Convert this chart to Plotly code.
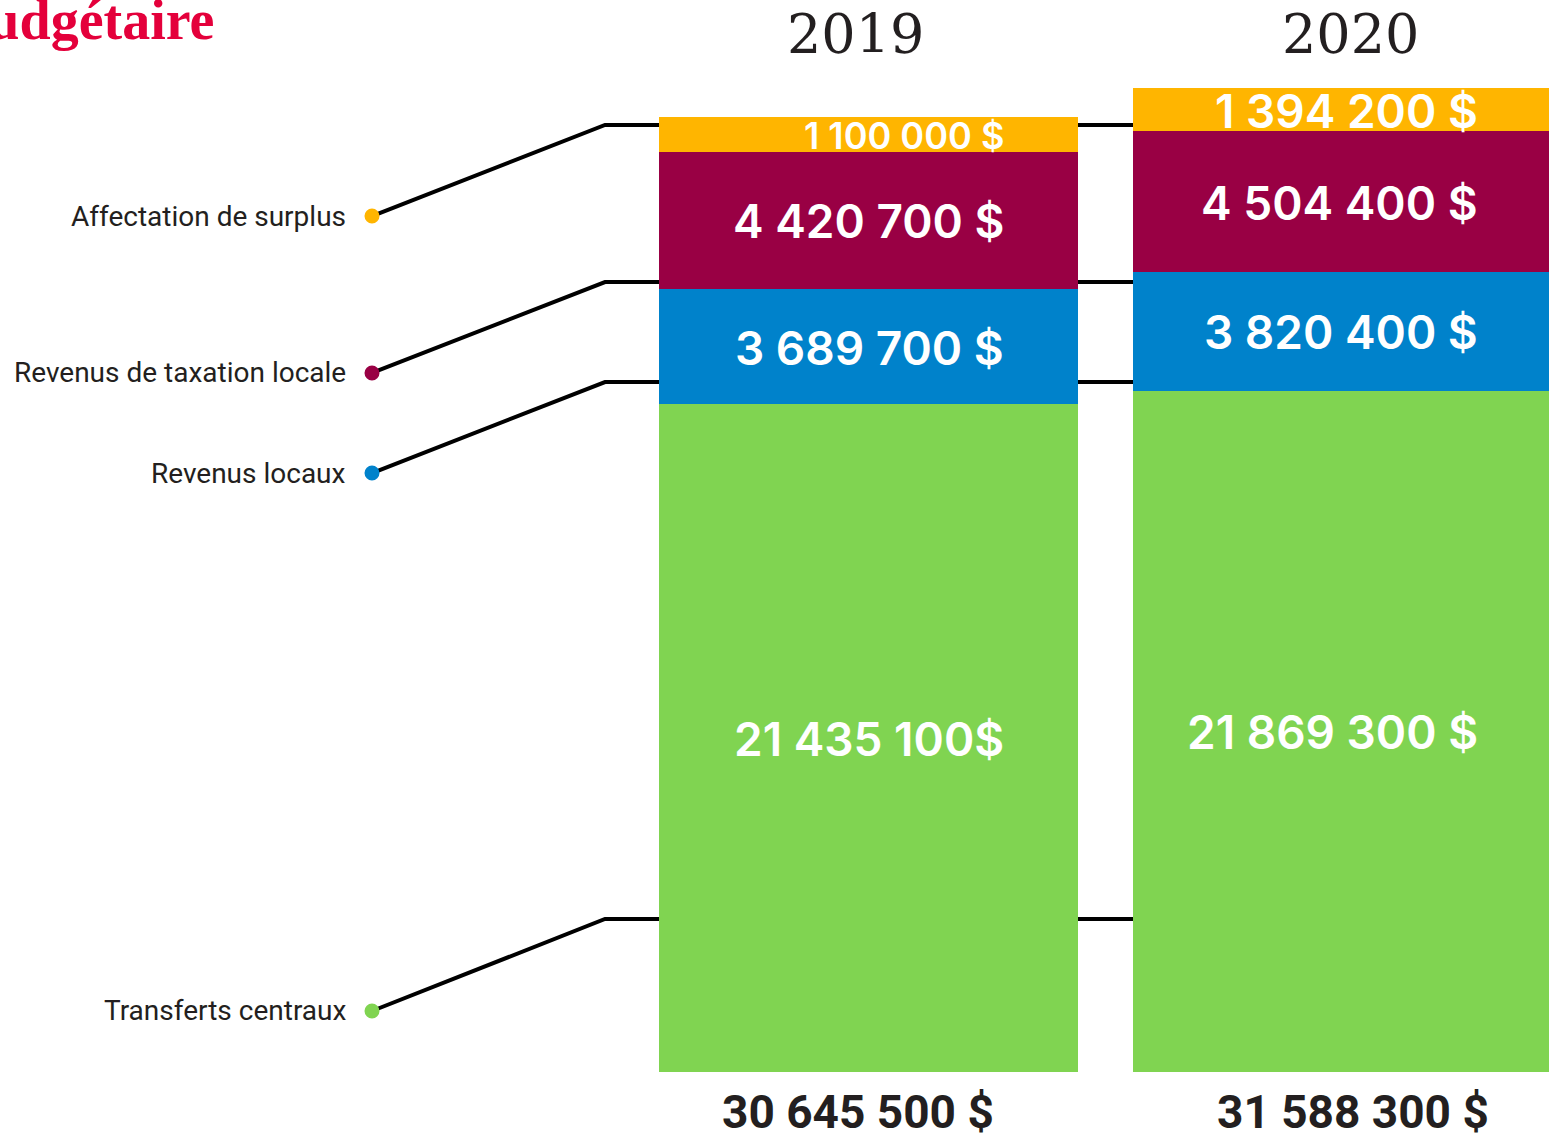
import plotly.graph_objects as go

# ---------------- data ----------------
years = ["2019", "2020"]
categories = ["Transferts centraux", "Revenus locaux",
              "Revenus de taxation locale", "Affectation de surplus"]
transferts_centraux = [21435100, 21869300]
revenus_locaux = [3689700, 3820400]
revenus_taxation = [4420700, 4504400]
affectation_surplus = [1100000, 1394200]

labels_transferts = ["21 435 100$", "21 869 300 $"]
labels_locaux = ["3 689 700 $", "3 820 400 $"]
labels_taxation = ["4 420 700 $", "4 504 400 $"]
labels_surplus = ["1 100 000 $", "1 394 200 $"]
total_labels = ["30 645 500 $", "31 588 300 $"]
title_text = "Budgétaire"

# ---------------- style ----------------
series = [
    (categories[0], transferts_centraux, labels_transferts, "#80D451"),
    (categories[1], revenus_locaux, labels_locaux, "#0082CB"),
    (categories[2], revenus_taxation, labels_taxation, "#990044"),
    (categories[3], affectation_surplus, labels_surplus, "#FFB500"),
]
W, H = 1549, 1141
M_T, M_B = 88, 69
PLOT_H = H - M_T - M_B
year_dx = [-0.028, 0.016]
total_dx = [-0.022, 0.022]

fig = go.Figure()
for name, vals, _, col in series:
    fig.add_trace(go.Bar(x=years, y=vals, name=name, marker_color=col,
                         marker_line_width=0, width=0.885, hoverinfo="skip"))

grand = [sum(s[1][i] for s in series) for i in range(len(years))]
ymax = max(grand)

annotations = []
# value labels inside segments (right aligned)
base = [0] * len(years)
for name, vals, labs, col in series:
    for i, (v, lab) in enumerate(zip(vals, labs)):
        seg_px = v / ymax * PLOT_H
        fsize = min(46, (seg_px - 8) / 0.727)
        annotations.append(dict(x=i + 0.29, y=base[i] + v / 2, xref="x", yref="y",
                                text=lab, showarrow=False, xanchor="right", yanchor="middle",
                                yshift=-1,
                                font=dict(family="Inter, Roboto, sans-serif", size=fsize,
                                          color="white", weight=600)))
        base[i] += v

# year headers and totals
for i, yr in enumerate(years):
    annotations.append(dict(x=i + year_dx[i], y=1, xref="x", yref="paper", yanchor="middle",
                            yshift=54, text=yr, showarrow=False,
                            font=dict(family="DejaVu Serif, serif", size=54, color="#231F20")))
    annotations.append(dict(x=i + total_dx[i], y=0, xref="x", yref="paper", yanchor="middle",
                            yshift=-40, text=total_labels[i], showarrow=False,
                            font=dict(family="Roboto, sans-serif", size=46, color="#231F20",
                                      weight=700)))

# title (partially cut off at left, as in the source)
annotations.append(dict(x=216 / W, y=1, xref="paper", yref="paper", xanchor="right",
                        yanchor="middle", yshift=68, text=f"<b>{title_text}</b>",
                        showarrow=False,
                        font=dict(family="Liberation Serif, serif", size=56, color="#E4003B")))

# leader lines + legend dots (paper coordinates of the plotting area)
leader_line_y = {categories[3]: 0.9624, categories[2]: 0.8028,
                 categories[1]: 0.7012, categories[0]: 0.1555}
leader_label_y = {categories[3]: 0.8699, categories[2]: 0.7104,
                  categories[1]: 0.6087, categories[0]: 0.0620}
dot_x = 372 / W
bend_x = 605 / W
text_x = 348 / W
shapes = []
for name, vals, labs, col in series:
    yl, yt = leader_line_y[name], leader_label_y[name]
    shapes.append(dict(type="path", xref="paper", yref="paper", layer="below",
                       path=f"M {dot_x},{yt} L {bend_x},{yl} L 1,{yl}",
                       line=dict(color="black", width=4)))
    shapes.append(dict(type="circle", xref="paper", yref="paper",
                       xsizemode="pixel", ysizemode="pixel", xanchor=dot_x, yanchor=yt,
                       x0=-7.5, x1=7.5, y0=-7.5, y1=7.5,
                       fillcolor=col, line=dict(width=0)))
    annotations.append(dict(x=text_x, y=yt, xref="paper", yref="paper", xanchor="right",
                            yanchor="middle", text=name, showarrow=False,
                            font=dict(family="Roboto, sans-serif", size=28, color="#231F20")))

fig.update_layout(
    width=W, height=H, barmode="stack", showlegend=False,
    margin=dict(l=0, r=0, t=M_T, b=M_B, pad=0),
    paper_bgcolor="white", plot_bgcolor="white",
    xaxis=dict(type="category", range=[-1.832, 1.4357], visible=False, fixedrange=True),
    yaxis=dict(range=[0, ymax], visible=False, fixedrange=True),
    annotations=annotations, shapes=shapes,
)

fig.write_html("out.html", config={"displayModeBar": False},
               post_script="document.body.style.margin='0';")
